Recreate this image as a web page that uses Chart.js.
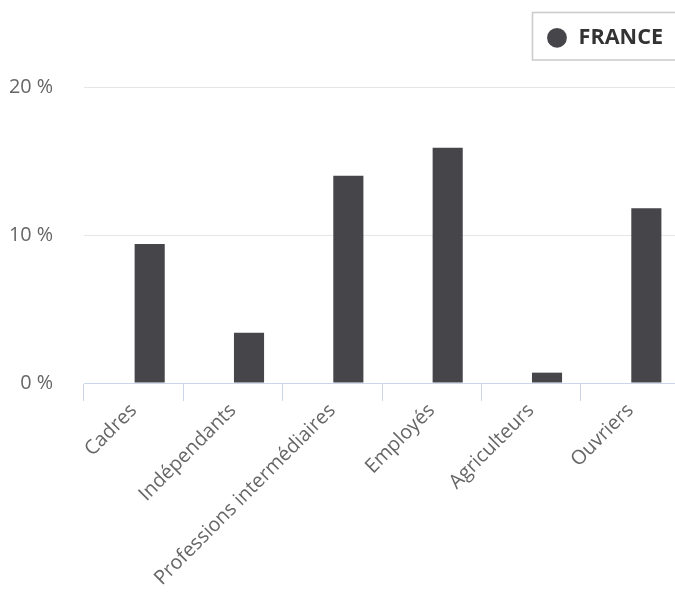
<!DOCTYPE html>
<html>
<head>
<meta charset="utf-8">
<script src="https://cdn.jsdelivr.net/npm/chart.js@4/dist/chart.umd.min.js"></script>
<style>
  html, body { margin: 0; padding: 0; overflow: hidden; background: #ffffff; }
  #c { display: block; }
</style>
</head>
<body>
<canvas id="c" width="680" height="599"></canvas>
<script>
const categories = ['Cadres', 'Indépendants', 'Professions intermédiaires', 'Employés', 'Agriculteurs', 'Ouvriers'];
const franceValues = [9.4, 3.4, 14.0, 15.9, 0.7, 11.8];
const emptySlot = [null, null, null, null, null, null];
const yTicks = [0, 10, 20];
const seriesName = 'FRANCE';

const BAR_COLOR = '#46454a';
const LEGEND_FONT = 21.6;
const LEGEND_PAD = 17;
const LAYOUT_TOP = 10;
const PLOT_TOP = 87;

const legendTweaks = {
  id: 'legendTweaks',
  beforeLayout(chart) {
    const lg = chart.legend;
    if (lg && !lg._wrappedFit) {
      const orig = lg.fit.bind(lg);
      lg.fit = function () {
        orig();
        this.height = PLOT_TOP - LAYOUT_TOP;
      };
      lg._wrappedFit = true;
    }
  },
  afterDraw(chart) {
    const lg = chart.legend;
    if (!lg || !lg.legendHitBoxes || !lg.legendHitBoxes.length) return;
    const hb = lg.legendHitBoxes[0];
    const cy = hb.top + LEGEND_FONT / 2;
    const ctx = chart.ctx;
    ctx.save();
    ctx.strokeStyle = '#cccccc';
    ctx.lineWidth = 1.6;
    ctx.strokeRect(Math.round(hb.left - 14.5) + 0.5, Math.round(cy - 26) + 0.5, 200, 47.5);
    ctx.restore();
  }
};

new Chart(document.getElementById('c'), {
  type: 'bar',
  data: {
    labels: categories,
    datasets: [
      { label: '', data: emptySlot, backgroundColor: 'rgba(0,0,0,0)' },
      { label: seriesName, data: franceValues, backgroundColor: BAR_COLOR, borderWidth: 0 }
    ]
  },
  options: {
    responsive: false,
    animation: false,
    devicePixelRatio: 1,
    categoryPercentage: 0.645,
    barPercentage: 0.94,
    layout: { padding: { top: LAYOUT_TOP, left: 0, right: 0, bottom: 0 } },
    plugins: {
      tooltip: { enabled: false },
      legend: {
        display: true,
        position: 'top',
        align: 'end',
        labels: {
          filter: (item) => item.text === seriesName,
          usePointStyle: true,
          pointStyle: 'circle',
          boxHeight: 14,
          padding: LEGEND_PAD,
          color: '#333333',
          font: { family: '"Open Sans", sans-serif', size: LEGEND_FONT, weight: 'bold' }
        }
      }
    },
    scales: {
      x: {
        afterFit(scale) { scale.height = 599 - 383; },
        grid: {
          display: true,
          drawOnChartArea: false,
          drawTicks: true,
          tickLength: 18,
          color: '#ccd6eb',
          lineWidth: 1
        },
        border: { display: true, color: '#ccd6eb', width: 1 },
        ticks: {
          autoSkip: false,
          minRotation: 45,
          maxRotation: 45,
          padding: -2,
          color: '#666666',
          font: { family: '"Open Sans", sans-serif', size: 19.8 }
        }
      },
      y: {
        min: 0,
        max: 20,
        afterFit(scale) { scale.width = 84; },
        afterBuildTicks(scale) { scale.ticks = yTicks.map(v => ({ value: v })); },
        grid: {
          drawTicks: false,
          color: (ctx) => (ctx.tick && ctx.tick.value === 0) ? 'rgba(0,0,0,0)' : '#e6e6e6',
          lineWidth: 1
        },
        border: { display: false },
        ticks: {
          padding: 31,
          color: '#666666',
          font: { family: '"Open Sans", sans-serif', size: 19.8 },
          callback: (v) => v + ' %'
        }
      }
    }
  },
  plugins: [legendTweaks]
});
</script>
</body>
</html>
